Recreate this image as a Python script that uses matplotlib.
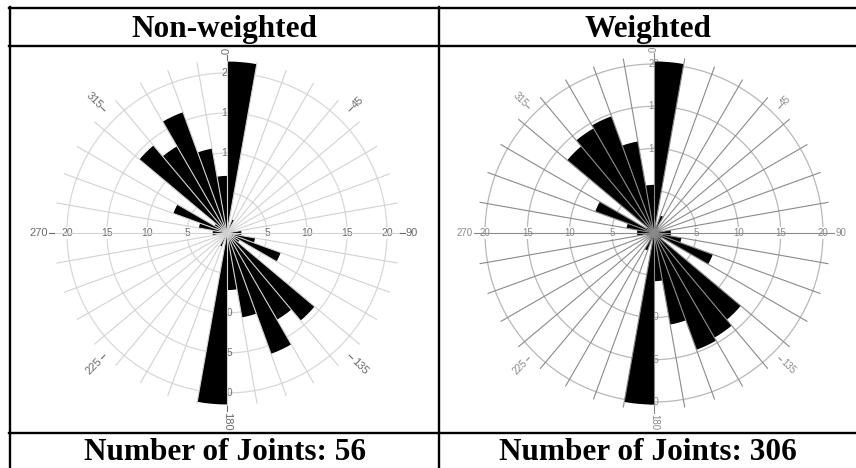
import numpy as np
import matplotlib
matplotlib.use("Agg")
import matplotlib.pyplot as plt
from matplotlib.lines import Line2D

# Joint strike roses: 10-degree bins from 0 to 180 degrees, percent of joints.
# Strikes are axial, so each bin is also drawn on the opposite side (180-360).
bin_starts = list(range(0, 180, 10))
non_weighted_pct = [21.43, 0.0, 1.79, 0.0, 0.0, 0.0, 0.0, 0.0, 1.79,
                    1.79, 3.57, 7.14, 1.79, 14.29, 12.50, 16.07, 10.71, 7.14]
weighted_pct = [20.3, 0.8, 2.2, 0.8, 0.5, 0.5, 0.5, 0.8, 2.0,
                2.0, 3.3, 7.4, 1.0, 13.4, 14.3, 14.7, 11.0, 5.7]

panel_titles = ["Non-weighted", "Weighted"]
joint_counts = [56, 306]
ring_values = [5, 10, 15, 20]
azimuth_labels = [0, 45, 90, 135, 180, 225, 270, 315]

W, H = 856, 468
fig = plt.figure(figsize=(W / 100, H / 100), dpi=100)
fig.patch.set_facecolor("white")


def px_box(cx, cy, half):
    return [(cx - half) / W, 1 - (cy + half) / H, 2 * half / W, 2 * half / H]


R_MAX = 22.0


def rose(ax, pct, spoke_col, ring_col, lab_col, spoke_lw, ring_lw,
         rad_size, az_size, spoke_end, tick_end, lab_r):
    ax.set_theta_zero_location("N")
    ax.set_theta_direction(-1)
    ax.set_ylim(0, R_MAX)
    ax.grid(False)
    ax.set_xticks([])
    ax.set_yticks([])
    ax.spines["polar"].set_visible(False)
    ax.patch.set_alpha(0)

    # rings under the bars
    th = np.linspace(0, 2 * np.pi, 721)
    for r in ring_values:
        ax.plot(th, np.full_like(th, r), color=ring_col, lw=ring_lw, zorder=1)

    # radial scale labels along the four main spokes (under the bars)
    for ang in (90, 270):
        for r in ring_values:
            ax.text(np.deg2rad(ang), r, str(r), ha="center", va="center",
                    fontsize=rad_size, color=lab_col, family="Liberation Sans",
                    zorder=2, bbox=dict(boxstyle="square,pad=0.1", fc="white", ec="none"))
    for ang in (0, 180):
        for r in ring_values[1:]:
            ax.text(np.deg2rad(ang), r, str(r), ha="center", va="center",
                    fontsize=rad_size, color=lab_col, family="Liberation Sans",
                    zorder=2)

    # bars, mirrored for the axial data
    centers = [b + 5 for b in bin_starts] + [b + 185 for b in bin_starts]
    values = list(pct) + list(pct)
    ax.bar(np.deg2rad(centers), values, width=np.deg2rad(10), bottom=0,
           color="black", edgecolor="none", align="center", zorder=3)

    # spokes every 10 degrees, drawn over the bars
    for a in range(0, 360, 10):
        t = np.deg2rad(a)
        ax.plot([t, t], [0, spoke_end], color=spoke_col, lw=spoke_lw, zorder=4)

    # azimuth ticks and labels
    for a in azimuth_labels:
        t = np.deg2rad(a)
        ax.plot([t, t], [spoke_end, tick_end], color=lab_col, lw=0.8,
                clip_on=False, zorder=4)
        rot = 90 - a
        ha = "left"
        if a > 180:
            rot += 180
            ha = "right"
        while rot > 180:
            rot -= 360
        while rot <= -180:
            rot += 360
        ax.text(t, lab_r, str(a), rotation=rot, rotation_mode="anchor",
                ha=ha, va="center", fontsize=az_size, color=lab_col,
                family="Liberation Sans", zorder=5)


ax_l = fig.add_axes(px_box(227, 233, R_MAX * 8.0), projection="polar")
rose(ax_l, non_weighted_pct, "#d2d2d2", "#d8d8d8", "#6a6a6a", 0.8, 0.9,
     7.5, 8, 21.6, 22.2, 22.35)

ax_r = fig.add_axes(px_box(654, 233, R_MAX * 8.45), projection="polar")
rose(ax_r, weighted_pct, "#8a8a8a", "#b8b8b8", "#8a8a8a", 0.8, 0.9,
     7, 7, 20.9, 21.3, 21.45)

# table frame
lw_tab = 1.7


def hline(y, x0, x1):
    fig.add_artist(Line2D([x0 / W, x1 / W], [1 - y / H, 1 - y / H],
                          color="black", lw=lw_tab, transform=fig.transFigure))


def vline(x, y0, y1):
    fig.add_artist(Line2D([x / W, x / W], [1 - y0 / H, 1 - y1 / H],
                          color="black", lw=lw_tab, transform=fig.transFigure))


hline(8, 9, W + 2)
hline(46, 9, W + 2)
hline(433, 9, W + 2)
vline(10, 7, H + 2)
vline(439, 7, H + 2)

cell_mid = [(10 + 439) / 2, (439 + W + 2) / 2 - 1]
for i in range(2):
    fig.text(cell_mid[i] / W, 1 - 37 / H, panel_titles[i], ha="center",
             va="baseline", fontsize=22.5, fontweight="bold",
             family="Liberation Serif")
    fig.text(cell_mid[i] / W, 1 - 460 / H, f"Number of Joints: {joint_counts[i]}",
             ha="center", va="baseline", fontsize=22.5, fontweight="bold",
             family="Liberation Serif")

fig.savefig("out.png", dpi=100, facecolor="white")
